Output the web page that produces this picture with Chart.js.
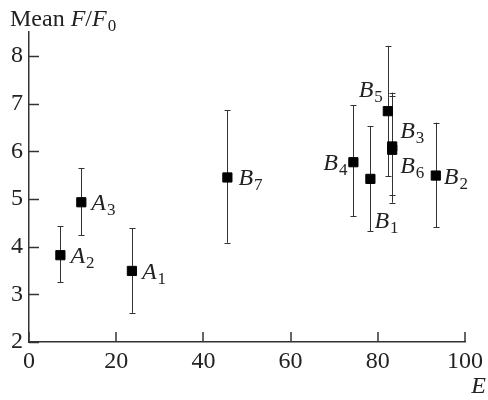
<!DOCTYPE html>
<html>
<head>
<meta charset="utf-8">
<script src="https://cdn.jsdelivr.net/npm/chart.js@4.4.1/dist/chart.umd.min.js"></script>
</head>
<body style="margin:0;background:#fff">
<div style="width:488px;height:400px;position:relative">
  <canvas id="chart"></canvas>
  <div style="position:absolute;left:10px;top:6px;font:24px/24px 'Liberation Serif';color:#222;white-space:nowrap">Mean <i>F</i>/<i>F</i><span style="font-size:17px;position:relative;top:5px;margin-left:1px">0</span></div>
  <div style="position:absolute;right:2px;top:373px;font:italic 24px/24px 'Liberation Serif';color:#222">E</div>
</div>
<script>
// data
const pointNames = ['A1', 'A2', 'A3', 'B1', 'B2', 'B3', 'B4', 'B5', 'B6', 'B7'];
const xValues = [23.6, 7.2, 12.0, 78.3, 93.3, 83.3, 74.4, 82.3, 83.3, 45.5];
const yValues = [3.49, 3.82, 4.93, 5.42, 5.49, 6.10, 5.77, 6.84, 6.03, 5.45];
const yLow = [2.61, 3.25, 4.24, 4.32, 4.41, 5.08, 4.64, 5.48, 4.92, 4.08];
const yHigh = [4.39, 4.43, 5.65, 6.52, 6.60, 7.15, 6.96, 8.21, 7.23, 6.86];
const xTicks = [0, 20, 40, 60, 80, 100];
const yTicks = [2, 3, 4, 5, 6, 7, 8];

// where each point label sits relative to its marker
const labelPlace = {
    A1: [10, 0, 'left'], A2: [10, 0, 'left'], A3: [10, 0, 'left'],
    B1: [4, 41, 'left'], B2: [8, 0, 'left'], B3: [8, -16, 'left'],
    B4: [-6, 0, 'right'], B5: [-5, -22, 'right'], B6: [8, 15, 'left'],
    B7: [11, 0, 'left']
};

const fontFamily = '"Liberation Serif", "Times New Roman", serif';
const ink = '#222';
const axisColor = '#333';

Chart.defaults.font.family = fontFamily;

function setFont(ctx, size, italic) {
    ctx.font = (italic ? 'italic ' : '') + size + 'px ' + fontFamily;
}

function drawSubLabel(ctx, main, sub, x, baseline, align, size) {
    const subSize = Math.round(size * 0.72);
    setFont(ctx, size, true);
    const wMain = ctx.measureText(main).width;
    setFont(ctx, subSize, false);
    const wSub = ctx.measureText(sub).width;
    const left = align === 'right' ? x - wMain - wSub - 1 : x;
    ctx.textAlign = 'left';
    ctx.textBaseline = 'alphabetic';
    setFont(ctx, size, true);
    ctx.fillText(main, left, baseline);
    setFont(ctx, subSize, false);
    ctx.fillText(sub, left + wMain + 1, baseline + 5);
}

const extras = {
    id: 'extras',
    beforeDatasetsDraw(chart) {
        const ctx = chart.ctx;
        const xs = chart.scales.x, ys = chart.scales.y;
        ctx.save();
        // inward tick marks
        ctx.strokeStyle = axisColor;
        ctx.lineWidth = 1.5;
        yTicks.forEach(v => {
            const py = Math.round(ys.getPixelForValue(v)) + 0.5;
            ctx.beginPath();
            ctx.moveTo(xs.left, py);
            ctx.lineTo(xs.left + 10, py);
            ctx.stroke();
        });
        xTicks.forEach(v => {
            const px = Math.round(xs.getPixelForValue(v));
            ctx.beginPath();
            ctx.moveTo(px, ys.bottom);
            ctx.lineTo(px, ys.bottom - 10);
            ctx.stroke();
        });
        // error bars
        ctx.strokeStyle = '#333';
        ctx.lineWidth = 1;
        xValues.forEach((xv, i) => {
            const px = Math.round(xs.getPixelForValue(xv)) + 0.5;
            const pLo = ys.getPixelForValue(yLow[i]);
            const pHi = ys.getPixelForValue(yHigh[i]);
            ctx.beginPath();
            ctx.moveTo(px, pLo);
            ctx.lineTo(px, pHi);
            ctx.moveTo(px - 3, Math.round(pLo) + 0.5);
            ctx.lineTo(px + 3, Math.round(pLo) + 0.5);
            ctx.moveTo(px - 3, Math.round(pHi) + 0.5);
            ctx.lineTo(px + 3, Math.round(pHi) + 0.5);
            ctx.stroke();
        });
        ctx.restore();
    },
    afterDraw(chart) {
        const ctx = chart.ctx;
        const xs = chart.scales.x, ys = chart.scales.y;
        ctx.save();
        ctx.fillStyle = ink;
        // point labels
        pointNames.forEach((name, i) => {
            const place = labelPlace[name];
            const px = xs.getPixelForValue(xValues[i]) + place[0];
            const py = ys.getPixelForValue(yValues[i]) + place[1];
            drawSubLabel(ctx, name[0], name.slice(1), px, py + 8, place[2], 24);
        });
        ctx.restore();
    }
};

const chart = new Chart(document.getElementById('chart'), {
    type: 'scatter',
    data: {
        datasets: [{
            data: xValues.map((x, i) => ({ x: x, y: yValues[i] })),
            pointStyle: 'rect',
            pointRadius: 6.5,
            pointHoverRadius: 6.5,
            backgroundColor: '#000',
            borderColor: '#000',
            borderWidth: 1
        }]
    },
    options: {
        responsive: true,
        maintainAspectRatio: false,
        animation: false,
        layout: { padding: { top: 32, right: 19, left: 0, bottom: 0 } },
        plugins: {
            legend: { display: false },
            tooltip: { enabled: false }
        },
        scales: {
            x: {
                type: 'linear',
                min: 0,
                max: 100,
                afterBuildTicks: s => { s.ticks = xTicks.map(v => ({ value: v })); },
                afterFit: s => { s.height = 58; },
                grid: { display: false, drawTicks: false },
                border: { display: true, color: axisColor, width: 1.5 },
                ticks: {
                    autoSkip: false,
                    maxRotation: 0,
                    padding: 5,
                    color: ink,
                    font: { family: fontFamily, size: 24 }
                }
            },
            y: {
                type: 'linear',
                min: 2,
                max: 8.5,
                afterBuildTicks: s => { s.ticks = yTicks.map(v => ({ value: v })); },
                afterFit: s => { s.width = 29; },
                grid: { display: false, drawTicks: false },
                border: { display: true, color: axisColor, width: 1.5 },
                ticks: {
                    autoSkip: false,
                    padding: 6,
                    color: ink,
                    font: { family: fontFamily, size: 24 }
                }
            }
        }
    },
    plugins: [extras]
});

// redraw once the serif face is surely available
document.fonts.ready.then(() => chart.update());
</script>
</body>
</html>
